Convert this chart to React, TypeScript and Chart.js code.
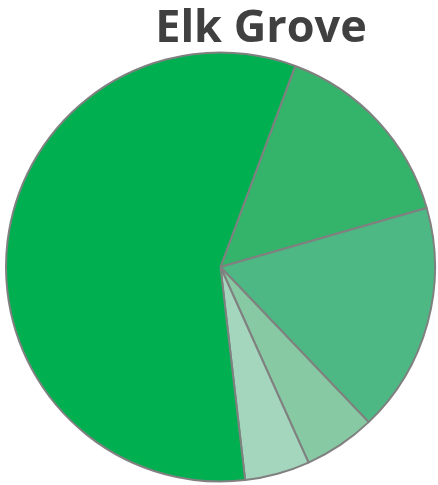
import React, { useEffect, useRef } from "react";
import { Chart, registerables } from "chart.js";

Chart.register(...registerables);

const categories = ["B", "C", "D", "E", "A"];
const values = [14.9, 17.3, 5.4, 4.9, 57.5];
const colors = ["#34b36a", "#4db883", "#86c9a3", "#a3d6bd", "#00b050"];
const title = "Elk Grove";

export default function App() {
  const ref = useRef<HTMLCanvasElement>(null);
  useEffect(() => {
    if (!ref.current) return;
    const chart = new Chart(ref.current, {
      type: "pie",
      data: {
        labels: categories,
        datasets: [
          {
            data: values,
            backgroundColor: colors,
            borderColor: "#808080",
            borderWidth: 2,
          },
        ],
      },
      options: {
        animation: false,
        responsive: false,
        rotation: 20.4,
        layout: { padding: { top: 51, bottom: 2, left: 5, right: 2 } },
        plugins: {
          legend: { display: false },
          tooltip: { enabled: false },
          title: { display: false },
        },
      },
    });
    return () => chart.destroy();
  }, []);
  return (
    <div style={{ position: "fixed", left: 0, top: 0, width: 438, height: 485, background: "#fff" }}>
      <canvas ref={ref} width={438} height={485} style={{ position: "absolute", left: 0, top: 0 }} />
      <div
        style={{
          position: "absolute",
          left: 0,
          width: 522,
          top: -5,
          textAlign: "center",
          fontFamily: "'Open Sans', sans-serif",
          fontWeight: 700,
          fontSize: 45,
          color: "#404040",
          lineHeight: "60px",
          whiteSpace: "nowrap",
        }}
      >
        {title}
      </div>
    </div>
  );
}
